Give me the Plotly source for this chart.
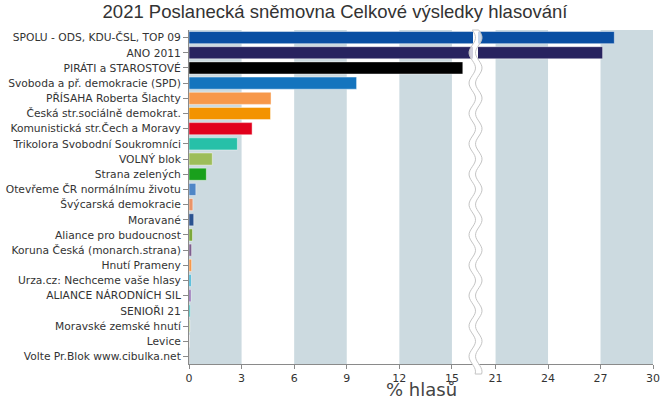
import numpy as np
import plotly.graph_objects as go

parties = [
    "SPOLU - ODS, KDU-ČSL, TOP 09", "ANO 2011", "PIRÁTI a STAROSTOVÉ",
    "Svoboda a př. demokracie (SPD)", "PŘÍSAHA Roberta Šlachty",
    "Česká str.sociálně demokrat.", "Komunistická str.Čech a Moravy",
    "Trikolora Svobodní Soukromníci", "VOLNÝ blok", "Strana zelených",
    "Otevřeme ČR normálnímu životu", "Švýcarská demokracie", "Moravané",
    "Aliance pro budoucnost", "Koruna Česká (monarch.strana)", "Hnutí Prameny",
    "Urza.cz: Nechceme vaše hlasy", "ALIANCE NÁRODNÍCH SIL", "SENIOŘI 21",
    "Moravské zemské hnutí", "Levice", "Volte Pr.Blok www.cibulka.net",
]
votes = [27.79, 27.12, 15.62, 9.56, 4.68, 4.65, 3.60, 2.76, 1.33, 0.99,
         0.39, 0.22, 0.27, 0.20, 0.15, 0.15, 0.12, 0.11, 0.07, 0.05, 0.03, 0.02]
colors = ["#0a4fa3", "#28235f", "#000000", "#1474be", "#f7984a", "#f39300",
          "#e1001c", "#27c0a8", "#9dbd5a", "#19a01c", "#4f86c6", "#ea9468",
          "#2a5290", "#7ba83a", "#7e5e8e", "#f7984a", "#3cb4d6", "#8a62b0",
          "#22b5b5", "#a8c870", "#cccccc", "#444444"]

left_ticks = [0, 3, 6, 9, 12, 15]
right_ticks = [21, 24, 27, 30]
left_range = [0, 16.2]
right_range = [20, 30]
bands_left = [(0, 3), (6, 9), (12, 15)]
bands_right = [(21, 24), (27, 30)]

LABEL_FONT = "DejaVu Sans, Verdana, sans-serif"

fig = go.Figure()
for xa in ["x", "x2"]:
    fig.add_trace(go.Bar(
        y=parties, x=votes, orientation="h", xaxis=xa, yaxis="y",
        marker=dict(color=colors, line=dict(color="rgba(255,255,255,0.45)", width=1)),
        showlegend=False, hoverinfo="x+y",
    ))

band_color = "#ccdae0"
for a, b in bands_left:
    fig.add_shape(type="rect", xref="x", yref="paper", x0=a, x1=b, y0=0, y1=1,
                  fillcolor=band_color, line_width=0, layer="below")
for a, b in bands_right:
    fig.add_shape(type="rect", xref="x2", yref="paper", x0=a, x1=b, y0=0, y1=1,
                  fillcolor=band_color, line_width=0, layer="below")

# wavy break band
dom_l = [0, 0.612]
dom_r = [0.623, 1]
c = (dom_l[1] + dom_r[0]) / 2
half = 0.007
amp = 0.007
ys = np.linspace(1.0, -0.03, 160)
wave = amp * np.sin((1.0 - ys) * 2 * np.pi * 11)
left_pts = [(c - half + w, yv) for w, yv in zip(wave, ys)]
right_pts = [(c + half + w, yv) for w, yv in zip(wave[::-1], ys[::-1])]
path = "M " + " L ".join(f"{px:.5f},{py:.5f}" for px, py in left_pts)
path += " L " + " L ".join(f"{px:.5f},{py:.5f}" for px, py in right_pts) + " Z"
fig.add_shape(type="path", xref="paper", yref="paper", path=path,
              fillcolor="rgba(255,255,255,0.78)", line=dict(color="#c4c4c4", width=1),
              layer="above")

axis_common = dict(showgrid=False, zeroline=False, showline=True, linecolor="#8a8a8a",
                   linewidth=1, ticks="outside", ticklen=4, tickcolor="#8a8a8a",
                   tickfont=dict(family=LABEL_FONT, size=11, color="#333"),
                   fixedrange=True, automargin=False)
fig.update_layout(
    width=670, height=419,
    margin=dict(l=189, r=17, t=30, b=55, autoexpand=False),
    paper_bgcolor="white", plot_bgcolor="white",
    bargap=0.2,
    title=dict(text="2021 Poslanecká sněmovna Celkové výsledky hlasování",
               x=0.5, xanchor="center", y=1 - 5.5 / 419, yanchor="top",
               font=dict(family="Liberation Sans, Arial, sans-serif", size=18.5, color="#333")),
    xaxis=dict(domain=dom_l, range=left_range, tickvals=left_ticks, anchor="y", **axis_common),
    xaxis2=dict(domain=dom_r, range=right_range, tickvals=right_ticks, anchor="y", **axis_common),
    yaxis=dict(autorange="reversed", showgrid=False, zeroline=False, showline=True,
               linecolor="#8a8a8a", ticks="outside", ticklen=5, tickcolor="#8a8a8a",
               tickfont=dict(family=LABEL_FONT, size=10.7, color="#333"), anchor="x",
               fixedrange=True, automargin=False),
    annotations=[dict(text="% hlasů", xref="paper", yref="paper", x=0.5,
                      y=-(389 - 364) / 334, xanchor="center", yanchor="middle",
                      showarrow=False,
                      font=dict(family=LABEL_FONT, size=18, color="#444"))],
)

fig.write_html("out.html", config={"displayModeBar": False},
               post_script="document.body.style.margin='0';")
